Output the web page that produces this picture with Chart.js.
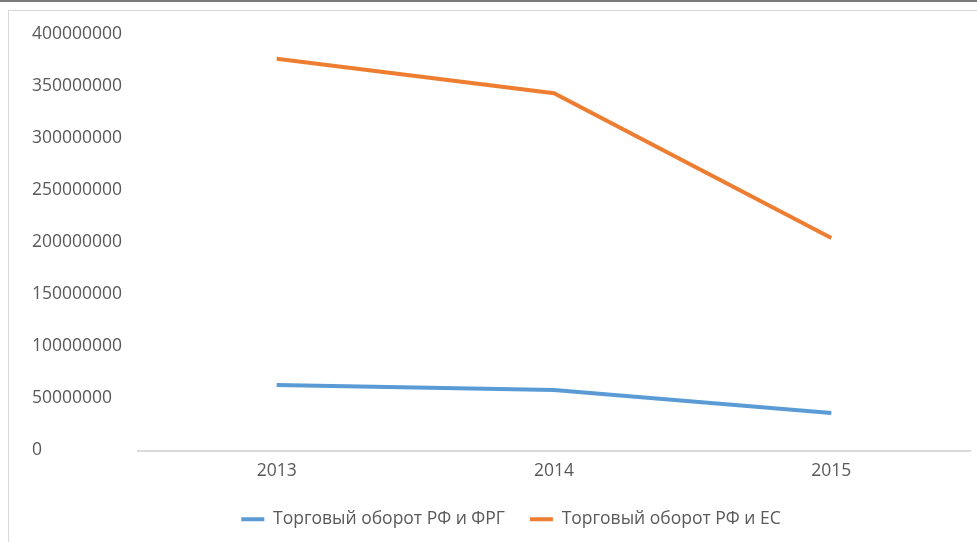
<!DOCTYPE html>
<html>
<head>
<meta charset="utf-8">
<script src="https://cdn.jsdelivr.net/npm/chart.js@4"></script>
<style>
  html, body { margin: 0; padding: 0; background: #fff; }
  body { width: 977px; height: 542px; position: relative; overflow: hidden; }
  #topline { position: absolute; left: 0; top: 0; width: 977px; height: 2px; background: #7a7a7a; }
  #frame { position: absolute; left: 8px; top: 10px; width: 969px; height: 532px;
           border-left: 1px solid #d9d9d9; border-top: 1px solid #d9d9d9; box-sizing: border-box; }
  #wrap { position: absolute; left: 0; top: 0; width: 977px; height: 542px; }
</style>
</head>
<body>
<div id="topline"></div>
<div id="frame"></div>
<div id="wrap"><canvas id="c" width="977" height="542"></canvas></div>
<script>
const categories = ['2013', '2014', '2015'];
const seriesNames = ['Торговый оборот РФ и ФРГ', 'Торговый оборот РФ и ЕС'];
const tradeRF_FRG = [62800000, 58000000, 36000000];
const tradeRF_EU = [376200000, 343200000, 204100000];
const yTicks = [0, 50000000, 100000000, 150000000, 200000000, 250000000, 300000000, 350000000, 400000000];

const FONT = "'Open Sans', 'Noto Sans', sans-serif";
const TXT = '#595959';

const shiftLegend = {
  id: 'shiftLegend',
  afterLayout(chart) {
    if (chart.legend) { chart.legend.left += 10; chart.legend.right += 10; }
  }
};

new Chart(document.getElementById('c'), {
  type: 'line',
  data: {
    labels: categories,
    datasets: [
      { label: seriesNames[0], data: tradeRF_FRG, borderColor: '#5B9BD5', backgroundColor: '#5B9BD5',
        borderWidth: 4, pointRadius: 0, tension: 0, fill: false },
      { label: seriesNames[1], data: tradeRF_EU, borderColor: '#ED7D31', backgroundColor: '#ED7D31',
        borderWidth: 4, pointRadius: 0, tension: 0, fill: false }
    ]
  },
  plugins: [shiftLegend],
  options: {
    responsive: false,
    animation: false,
    events: [],
    layout: { padding: { left: 32, right: 7, top: 34, bottom: 4 } },
    plugins: {
      tooltip: { enabled: false },
      legend: {
        position: 'bottom',
        labels: {
          usePointStyle: true,
          pointStyleWidth: 23,
          pointStyle: 'line',
          padding: 25,
          color: TXT,
          font: { family: FONT, size: 17.5 }
        }
      }
    },
    scales: {
      x: {
        offset: true,
        grid: { display: false, drawTicks: false },
        border: { display: true, color: '#d9d9d9', width: 2 },
        ticks: { color: TXT, font: { family: FONT, size: 17.5 }, padding: 10 },
        afterFit: (s) => { s.height = 35; }
      },
      y: {
        min: 0, max: 400000000,
        afterBuildTicks: (s) => { s.ticks = yTicks.map(v => ({ value: v })); },
        grid: { display: false, drawTicks: false },
        border: { display: false },
        ticks: { color: TXT, font: { family: FONT, size: 17.5 }, crossAlign: 'far',
                 callback: (v) => String(v) },
        afterFit: (s) => { s.width = 106; }
      }
    }
  }
});
</script>
</body>
</html>
